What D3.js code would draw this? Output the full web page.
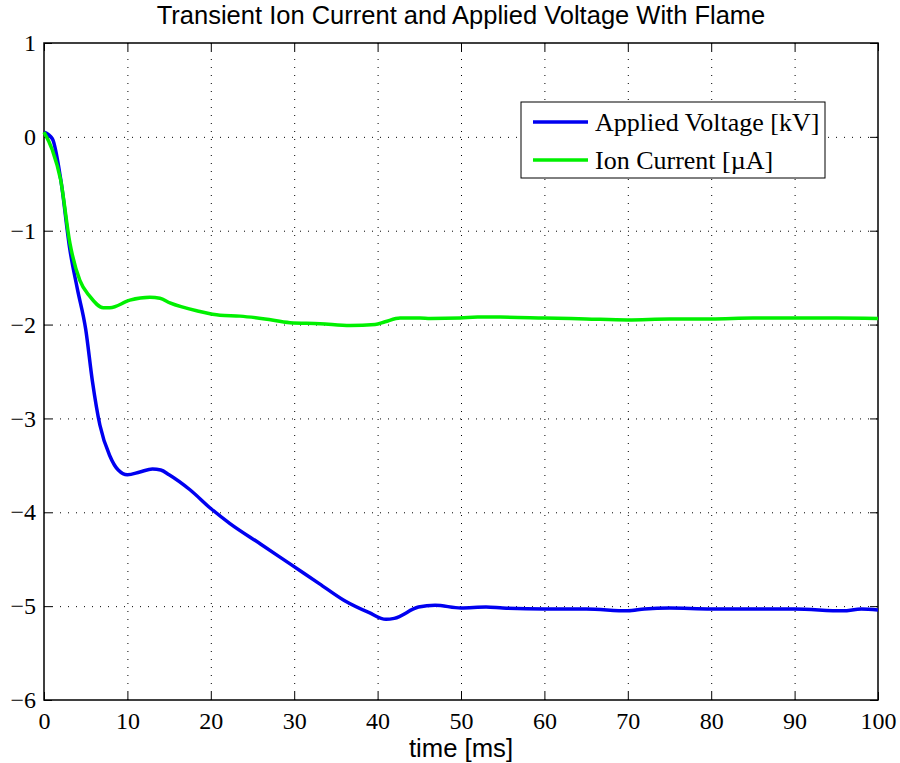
<!DOCTYPE html>
<html>
<head>
<meta charset="utf-8">
<script src="https://cdn.jsdelivr.net/npm/d3@7"></script>
<style>
  body { margin: 0; background: #fff; }
  svg { display: block; }
</style>
</head>
<body>
<div id="root"></div>
<script>
const width = 900;
const height = 763;
const margin = { top: 43, right: 22, bottom: 63, left: 44 };

// Data

const xTicks = [0, 10, 20, 30, 40, 50, 60, 70, 80, 90, 100];
const yTicks = [1, 0, -1, -2, -3, -4, -5, -6];

const voltageTime = [0, 1, 2, 3.1, 4, 5, 5.8, 6.7, 7.9, 8.9, 10, 11.5, 13, 14, 15,
  17.5, 20, 22.3, 26, 29.5, 33, 36, 39, 41, 42, 44.9, 46.9, 50, 53, 55, 60, 65,
  70, 72, 75, 80, 85, 90, 95.8, 98, 100];
const voltage = [0.05, -0.02, -0.45, -1.2, -1.62, -2.05, -2.6, -3.07, -3.4, -3.55,
  -3.6, -3.57, -3.54, -3.55, -3.6, -3.76, -3.96, -4.12, -4.34, -4.55, -4.76, -4.94,
  -5.07, -5.14, -5.13, -5.01, -4.99, -5.02, -5.01, -5.02, -5.03, -5.03, -5.05,
  -5.03, -5.02, -5.03, -5.03, -5.03, -5.05, -5.03, -5.04];

const currentTime = [0, 1, 2, 3.1, 4.3, 5.5, 7.1, 7.9, 10.3, 12.7, 13.9, 15.1, 18.7,
  21.1, 23.5, 26.5, 29.5, 33.1, 36.7, 39.7, 40.9, 42.7, 45.1, 46.3, 49.9, 52, 54.7,
  60, 65, 70, 75, 80, 85, 90, 95, 100];
const current = [0.05, -0.14, -0.46, -1.13, -1.53, -1.7, -1.82, -1.82, -1.74, -1.71,
  -1.72, -1.77, -1.86, -1.9, -1.91, -1.94, -1.98, -1.99, -2.01, -2.0, -1.97, -1.93,
  -1.93, -1.935, -1.93, -1.92, -1.92, -1.93, -1.94, -1.95, -1.94, -1.94, -1.93,
  -1.93, -1.93, -1.935];

const seriesNames = ['Applied Voltage [kV]', 'Ion Current [\u00b5A]'];
const seriesColors = ['#0000f0', '#00f000'];

// Scales

const x = d3.scaleLinear().domain([0, 100])
  .range([margin.left, width - margin.right]);
const y = d3.scaleLinear().domain([-6, 1])
  .range([height - margin.bottom, margin.top]);

const svg = d3.select('#root').append('svg')
  .attr('width', width)
  .attr('height', height);

const serif = 'Liberation Serif, Times New Roman, serif';
const sans = 'Liberation Sans, Arial, sans-serif';

// Grid (dotted)

const grid = svg.append('g')
  .attr('stroke', '#000')
  .attr('stroke-width', 1)
  .attr('stroke-dasharray', '1,7');

grid.selectAll('line.gx')
  .data(xTicks.slice(1, -1))
  .join('line')
  .attr('class', 'gx')
  .attr('x1', (d) => x(d) + 0.5).attr('x2', (d) => x(d) + 0.5)
  .attr('y1', y(1)).attr('y2', y(-6));

grid.selectAll('line.gy')
  .data(yTicks.slice(1, -1))
  .join('line')
  .attr('class', 'gy')
  .attr('y1', (d) => y(d) + 0.5).attr('y2', (d) => y(d) + 0.5)
  .attr('x1', x(0)).attr('x2', x(100));

// Axes with inward ticks on all four sides

const tickLen = 8;
const fmt = (d) => (d < 0 ? '\u2212' + Math.abs(d) : String(d));

const axisBottomG = svg.append('g')
  .attr('transform', `translate(0,${y(-6)})`)
  .call(d3.axisBottom(x).tickValues(xTicks).tickSize(-tickLen).tickPadding(12).tickFormat(fmt));
const axisTopG = svg.append('g')
  .attr('transform', `translate(0,${y(1)})`)
  .call(d3.axisTop(x).tickValues(xTicks).tickSize(-tickLen).tickFormat(''));
const axisLeftG = svg.append('g')
  .attr('transform', `translate(${x(0)},0)`)
  .call(d3.axisLeft(y).tickValues(yTicks).tickSize(-tickLen).tickPadding(8).tickFormat(fmt));
const axisRightG = svg.append('g')
  .attr('transform', `translate(${x(100)},0)`)
  .call(d3.axisRight(y).tickValues(yTicks).tickSize(-tickLen).tickFormat(''));

[axisBottomG, axisTopG, axisLeftG, axisRightG].forEach((g) => {
  g.select('.domain').remove();
  g.selectAll('.tick line').attr('stroke', '#000').attr('stroke-width', 1);
  g.selectAll('text')
    .attr('fill', '#000')
    .style('font-family', serif)
    .style('font-size', '24px');
});

svg.append('rect')
  .attr('x', x(0)).attr('y', y(1))
  .attr('width', x(100) - x(0)).attr('height', y(-6) - y(1))
  .attr('fill', 'none')
  .attr('stroke', '#000')
  .attr('stroke-width', 1.5);

// Lines

const line = d3.line()
  .x((d) => x(d[0]))
  .y((d) => y(d[1]))
  .curve(d3.curveMonotoneX);

const series = [
  d3.zip(voltageTime, voltage),
  d3.zip(currentTime, current),
];

svg.append('g')
  .selectAll('path')
  .data(series)
  .join('path')
  .attr('d', line)
  .attr('fill', 'none')
  .attr('stroke', (d, i) => seriesColors[i])
  .attr('stroke-width', 3.5)
  .attr('stroke-linejoin', 'round');

// Legend

const legend = svg.append('g').attr('transform', 'translate(521,102)');

legend.append('rect')
  .attr('width', 304)
  .attr('height', 76)
  .attr('fill', '#fff')
  .attr('stroke', '#000')
  .attr('stroke-width', 1);

const item = legend.selectAll('g')
  .data(seriesNames)
  .join('g')
  .attr('transform', (d, i) => `translate(0,${20 + 38 * i})`);

item.append('line')
  .attr('x1', 12).attr('x2', 67)
  .attr('stroke', (d, i) => seriesColors[i])
  .attr('stroke-width', 3.5);

item.append('text')
  .attr('x', 74)
  .attr('dy', '0.35em')
  .style('font-family', serif)
  .style('font-size', '26px')
  .text((d) => d);

// Titles

svg.append('text')
  .attr('x', (x(0) + x(100)) / 2)
  .attr('y', 24)
  .attr('text-anchor', 'middle')
  .style('font-family', sans)
  .style('font-size', '25.5px')
  .text('Transient Ion Current and Applied Voltage With Flame');

svg.append('text')
  .attr('x', (x(0) + x(100)) / 2)
  .attr('y', 757)
  .attr('text-anchor', 'middle')
  .style('font-family', sans)
  .style('font-size', '25.7px')
  .text('time [ms]');
</script>
</body>
</html>
